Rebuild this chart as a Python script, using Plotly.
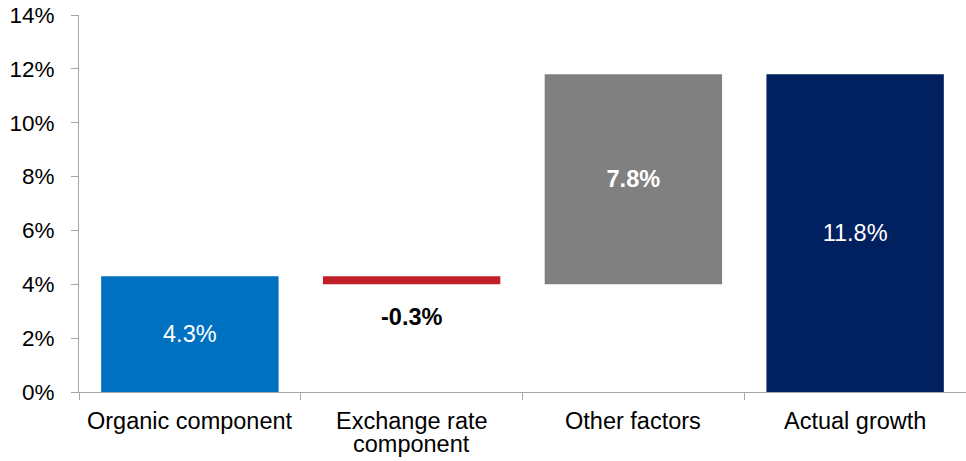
import plotly.graph_objects as go

categories = ["Organic component", "Exchange rate<br>component", "Other factors", "Actual growth"]
bases = [0.0, 4.3, 4.0, 0.0]
values = [4.3, -0.3, 7.8, 11.8]
colors = ["#0070C0", "#C0202A", "#808080", "#002060"]
label_colors = ["white", "black", "white", "white"]
label_bold = [False, True, True, False]
y_ticks = [0, 2, 4, 6, 8, 10, 12, 14]

labels = []
for v, b in zip(values, label_bold):
    s = f"{v:.1f}%"
    labels.append(f"<b>{s}</b>" if b else s)

inside_text = [l if v > 0 else "" for l, v in zip(labels, values)]

font_family = "Liberation Sans, Arial, sans-serif"
cat_size = 23.5
line_h = 23

fig = go.Figure()
fig.add_trace(go.Bar(
    x=categories, y=values, base=bases,
    marker=dict(color=colors, line=dict(width=0)),
    text=inside_text, textposition="inside", insidetextanchor="middle",
    textfont=dict(color=label_colors, size=23.5, family=font_family),
    hoverinfo="skip",
))

for c, b, v, l, col in zip(categories, bases, values, labels, label_colors):
    if v < 0:
        fig.add_annotation(x=c, y=b + v, text=l, showarrow=False, yanchor="top",
                           yshift=-18, font=dict(color=col, size=23.5, family=font_family))

# category labels drawn as annotations for tight line spacing
for c in categories:
    for i, line in enumerate(c.split("<br>")):
        fig.add_annotation(x=c, y=0, yref="paper", text=line, showarrow=False,
                           yanchor="top", yshift=-14 - i * line_h,
                           font=dict(size=cat_size, family=font_family, color="black"))

fig.update_layout(
    width=966, height=461,
    margin=dict(l=79, r=0, t=15, b=69),
    plot_bgcolor="white", paper_bgcolor="white",
    bargap=0.2, showlegend=False,
    font=dict(family=font_family, size=22, color="black"),
    uniformtext=dict(minsize=8, mode="show"),
)
fig.update_yaxes(
    range=[0, 14], tickvals=y_ticks, ticktext=[f"{t}%" for t in y_ticks],
    showgrid=False, zeroline=False, showline=True, linecolor="#A6A6A6", linewidth=1,
    ticks="outside", ticklen=7, tickcolor="#A6A6A6", ticklabelstandoff=12,
    tickfont=dict(size=22.5, family=font_family, color="black"), automargin=False,
)
fig.update_xaxes(
    showgrid=False, showline=True, linecolor="#A6A6A6", linewidth=1,
    ticks="outside", ticklen=7, tickcolor="#A6A6A6", tickson="boundaries",
    showticklabels=False, automargin=False,
)

fig.write_html("out.html", config={"displayModeBar": False},
               post_script="document.body.style.margin='0';document.body.style.overflow='hidden';")
